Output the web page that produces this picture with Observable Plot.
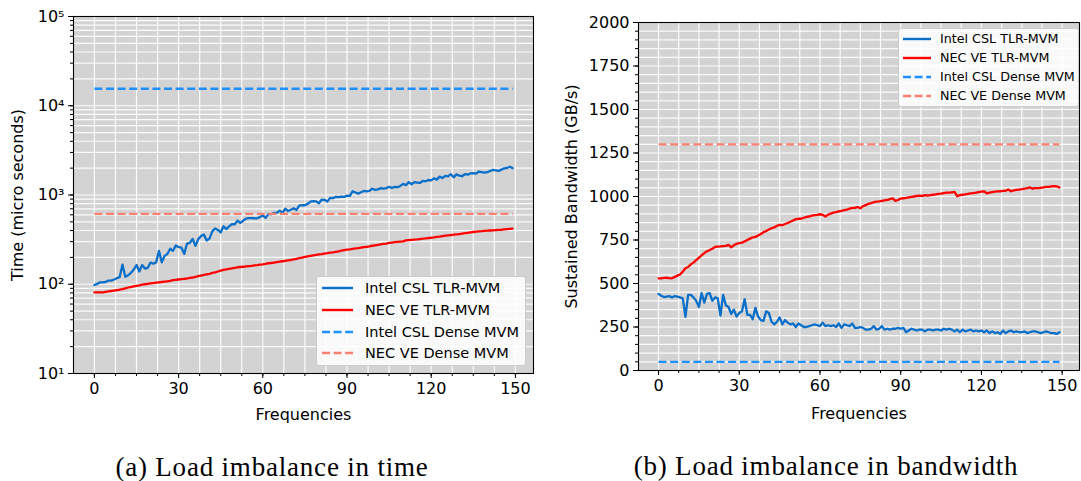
<!DOCTYPE html>
<html><head><meta charset="utf-8">
<script src="https://cdn.jsdelivr.net/npm/d3@7"></script>
<script src="https://cdn.jsdelivr.net/npm/@observablehq/plot@0.6"></script>
<style>
body{margin:0;background:#fff;}
#wrap{position:relative;width:1081px;height:481px;overflow:hidden;font-family:"DejaVu Sans",sans-serif;}
.panel{position:absolute;top:0;}
.legend{position:absolute;background:rgba(255,255,255,0.85);border:1px solid #cccccc;border-radius:3px;box-sizing:border-box;}
.legend .row{position:absolute;white-space:nowrap;color:#000;}
.legend svg{position:absolute;}
.caption{position:absolute;font-family:"Liberation Serif",serif;font-size:27px;letter-spacing:0.8px;color:#000;transform:translate(-50%,-50%);white-space:nowrap;}
</style></head>
<body><div id="wrap"></div>
<script>
// ---- data ----
const frequencies = d3.range(150);
const seriesNames = ["Intel CSL TLR-MVM", "NEC VE TLR-MVM", "Intel CSL Dense MVM", "NEC VE Dense MVM"];
const intelTime = [98,101,105,105,106,110,110,113,117,120,
 166,121,126,134,146,164,139,164,150,153,
 175,170,176,237,176,208,218,250,237,272,
 261,258,219,286,291,322,269,319,348,361,
 309,325,391,421,406,380,446,415,446,471,
 470,517,487,514,543,552,551,549,548,568,
 588,556,610,609,632,631,667,628,704,661,
 685,709,680,761,772,768,795,841,853,847,
 808,889,883,843,928,921,953,946,958,951,
 983,976,1102,1068,1037,1072,1110,1100,1113,1177,
 1140,1154,1193,1181,1195,1235,1197,1236,1223,1263,
 1333,1291,1395,1320,1394,1378,1364,1441,1425,1473,
 1457,1538,1486,1606,1549,1637,1616,1710,1577,1704,
 1644,1623,1713,1690,1744,1759,1736,1833,1808,1784,
 1800,1857,1917,1890,1864,1923,1987,2007,2075,2000];
const necTime = [81,81,81,81,82,83,84,85,86,87,
 88,90,92,93,95,96,97,99,100,101,
 102,103,104,105,106,107,108,109,111,112,
 113,114,115,116,118,119,121,123,125,127,
 129,131,134,136,139,142,145,147,149,151,
 153,155,156,157,159,160,161,163,164,166,
 167,169,172,173,175,177,179,181,183,185,
 187,190,193,196,199,202,205,208,211,213,
 216,218,221,223,226,228,231,234,238,241,
 244,246,249,252,254,257,260,263,266,270,
 273,276,280,283,286,290,293,296,298,300,
 302,310,312,314,316,318,321,324,326,329,
 332,335,339,342,346,350,353,356,359,362,
 365,369,373,377,381,385,388,391,393,396,
 398,400,402,404,406,408,411,414,417,419];
const intelDenseTime = 15500;
const necDenseTime = 615;
const intelBW = [440,430,422,425,428,420,428,425,420,415,
 308,435,435,420,400,365,445,390,440,445,
 400,420,415,315,435,375,365,325,350,310,
 330,340,410,320,320,295,360,310,290,285,
 340,330,280,265,280,305,265,290,275,265,
 270,250,270,260,250,250,255,260,265,260,
 255,275,255,260,255,260,250,270,245,265,
 260,255,270,245,245,250,245,235,235,240,
 255,235,240,255,235,240,235,240,240,245,
 240,245,220,230,240,235,230,235,235,225,
 235,235,230,235,235,230,240,235,240,235,
 225,235,220,235,225,230,235,225,230,225,
 230,220,230,215,225,215,220,210,230,215,
 225,230,220,225,220,220,225,215,220,225,
 225,220,215,220,225,220,215,215,210,220];
const necBW = [530,530,532,533,531,530,538,545,552,568,
 588,595,610,620,635,648,662,675,685,692,
 700,710,712,713,715,716,722,708,720,728,
 732,735,742,750,758,765,768,775,785,795,
 802,810,818,822,832,837,835,842,848,855,
 862,870,872,872,878,883,885,890,893,895,
 898,895,885,895,902,907,910,915,918,922,
 925,930,935,935,940,932,945,950,958,962,
 967,970,972,975,978,980,985,990,975,980,
 988,990,992,995,998,1000,1003,1005,1003,1008,
 1005,1008,1010,1012,1015,1017,1020,1022,1022,1024,
 1026,1002,1008,1010,1012,1015,1018,1020,1022,1025,
 1028,1030,1018,1022,1025,1028,1030,1030,1032,1033,
 1040,1030,1035,1038,1040,1042,1045,1048,1052,1045,
 1048,1048,1050,1052,1055,1055,1058,1060,1058,1052];
const intelDenseBW = 50;
const necDenseBW = 1300;
const xTicks = [0, 30, 60, 90, 120, 150];
const xMinorTicks = d3.range(0, 151, 7.5);
const timeTicks = [1e1, 1e2, 1e3, 1e4, 1e5];
const bwTicks = [0, 250, 500, 750, 1000, 1250, 1500, 1750, 2000];
const bwMinorTicks = d3.range(0, 2001, 50);
const captions = ["(a) Load imbalance in time", "(b) Load imbalance in bandwidth"];

// ---- styles ----
const colors = ["#0a6fc8", "#ff0000", "#1e90ff", "#fa8072"];
const dashes = [null, null, "8,3.6", "8,3.6"];
const timeMinorTicks = [];
for (let k = 1; k < 5; k++) for (let m = 2; m <= 9; m++) timeMinorTicks.push(m * 10 ** k);

const sup = {"0":"⁰","1":"¹","2":"²","3":"³","4":"⁴","5":"⁵","6":"⁶","7":"⁷","8":"⁸","9":"⁹"};
const logFmt = d => "10" + String(Math.round(Math.log10(d))).split("").map(c => sup[c]).join("");

function makeRows(tlr1, tlr2, dense1, dense2) {
  const rows = [];
  frequencies.forEach((f, i) => {
    rows.push({f, v: tlr1[i], s: 0});
    rows.push({f, v: tlr2[i], s: 1});
  });
  const f0 = frequencies[0], f1 = frequencies[frequencies.length - 1];
  rows.push({f: f0, v: dense1, s: 2}, {f: f1, v: dense1, s: 2});
  rows.push({f: f0, v: dense2, s: 3}, {f: f1, v: dense2, s: 3});
  return rows;
}

function panel(o) {
  const rows = o.rows;
  const lineMarks = [0, 1, 2, 3].map(s => Plot.line(rows.filter(r => r.s === s), {
    x: "f", y: "v", stroke: colors[s], strokeWidth: 2.3,
    strokeDasharray: dashes[s] || undefined, strokeLinejoin: "round", strokeLinecap: dashes[s] ? "butt" : "round"
  }));
  return Plot.plot({
    width: o.width, height: o.height,
    marginLeft: o.ml, marginRight: o.mr, marginTop: o.mt, marginBottom: o.mb,
    style: {fontFamily: "DejaVu Sans, sans-serif", fontSize: "16px", background: "transparent", overflow: "visible", color: "#000"},
    x: {domain: [-7.45, 156.45]},
    y: o.y,
    marks: [
      Plot.frame({fill: "#d3d3d3", stroke: null}),
      Plot.ruleX(xMinorTicks, {stroke: "white", strokeWidth: 1.2, strokeOpacity: 0.9}),
      Plot.ruleY(o.yMinor, {stroke: "white", strokeWidth: 1.2, strokeOpacity: 0.9}),
      ...lineMarks,
      Plot.frame({stroke: "black", strokeWidth: 1.1}),
      Plot.axisX({ticks: xTicks, tickSize: 5, tickPadding: 4, label: "Frequencies", labelAnchor: "center", labelArrow: "none", labelOffset: o.xLabelOffset}),
      Plot.axisX({ticks: xMinorTicks, tickSize: 3, tickFormat: () => "", label: null}),
      Plot.axisY({ticks: o.yMajor, tickSize: 5, tickPadding: 4, tickFormat: o.yFormat, label: o.yLabel, labelAnchor: "center", labelArrow: "none", labelOffset: o.yLabelOffset}),
      Plot.axisY({ticks: o.yMinor, tickSize: 3, tickFormat: () => "", label: null})
    ]
  });
}

const wrap = document.getElementById("wrap");

function place(el, left) { el.classList.add("panel"); el.style.left = left + "px"; wrap.appendChild(el); }

const left = panel({
  width: 540, height: 430, ml: 73, mr: 7, mt: 16, mb: 57,
  y: {type: "log", domain: [10, 1e5]},
  yMajor: timeTicks, yMinor: [...timeTicks, ...timeMinorTicks], yFormat: logFmt,
  yLabel: "Time (micro seconds)", yLabelOffset: 62, xLabelOffset: 46,
  rows: makeRows(intelTime, necTime, intelDenseTime, necDenseTime)
});
place(left, 0);

const right = panel({
  width: 541, height: 430, ml: 98, mr: 2, mt: 22, mb: 60,
  y: {domain: [0, 2000]},
  yMajor: bwTicks, yMinor: bwMinorTicks, yFormat: d => String(d),
  yLabel: "Sustained Bandwidth (GB/s)", yLabelOffset: 73, xLabelOffset: 48,
  rows: makeRows(intelBW, necBW, intelDenseBW, necDenseBW)
});
place(right, 540);

function legend(x, y, w, h, fontSize, rowY, lineX0, lineX1, textX) {
  const box = document.createElement("div");
  box.className = "legend";
  Object.assign(box.style, {left: x + "px", top: y + "px", width: w + "px", height: h + "px", fontSize: fontSize + "px"});
  seriesNames.forEach((name, i) => {
    const svg = d3.create("svg").attr("width", lineX1 - lineX0 + 2).attr("height", 6)
      .style("left", (lineX0 - x - 1) + "px").style("top", (rowY[i] - y - 3) + "px");
    svg.append("line").attr("x1", 1).attr("x2", lineX1 - lineX0 + 1).attr("y1", 3).attr("y2", 3)
      .attr("stroke", colors[i]).attr("stroke-width", 2.4).attr("stroke-dasharray", dashes[i]);
    box.appendChild(svg.node());
    const t = document.createElement("div");
    t.className = "row"; t.textContent = name;
    Object.assign(t.style, {left: (textX - x) + "px", top: (rowY[i] - y) + "px", transform: "translateY(-52%)"});
    box.appendChild(t);
  });
  wrap.appendChild(box);
}
legend(316, 276, 210, 90, 14.5, [287, 309, 331, 352], 321, 352, 364);
legend(898, 28, 181, 79, 12.7, [38, 57, 76, 95], 902, 930, 939);

[[272, 467], [826, 466]].forEach(([cx, cy], i) => {
  const c = document.createElement("div");
  c.className = "caption"; c.textContent = captions[i];
  c.style.left = cx + "px"; c.style.top = cy + "px";
  wrap.appendChild(c);
});
</script></body></html>
